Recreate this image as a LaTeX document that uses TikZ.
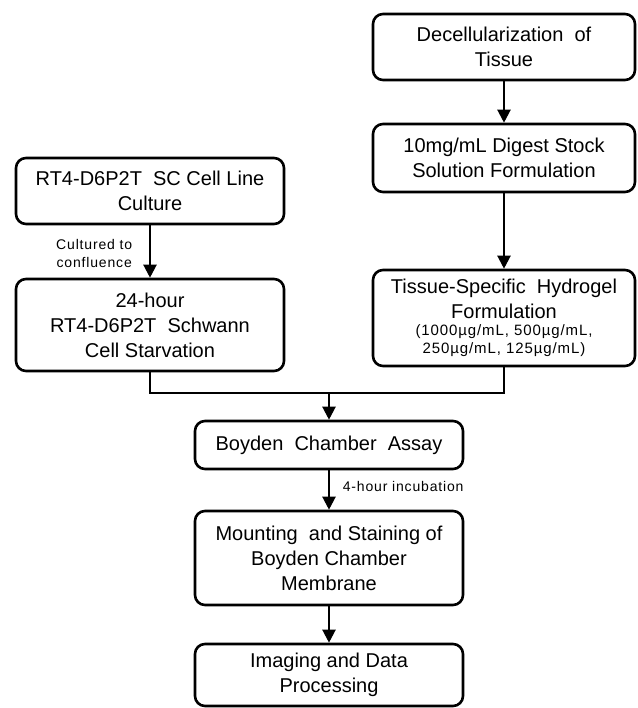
\documentclass[tikz,border=0pt]{standalone}
\usepackage{fontspec}
\setmainfont{Liberation Sans}
\newfontfamily\notefont[LetterSpace=6]{Liberation Sans}
\usepackage{tikz}
\usetikzlibrary{arrows.meta,calc}

\begin{document}
\begin{tikzpicture}[x=0.5pt, y=-0.5pt,
    every node/.style={font=\fontsize{10}{12.5}\selectfont},
    proc/.style={draw, line width=1.3pt, rounded corners=5pt, align=center, inner sep=2pt, minimum width=134pt},
    flow/.style={line width=1.1pt, -{Triangle[length=6.5pt,width=6.5pt]}},
    note/.style={font=\notefont\fontsize{7}{9}\selectfont, align=center}]
  \useasboundingbox (0,0) rectangle (638,708);

  % cell line branch
  \node[proc, minimum height=33pt] (cult) at (150,191)
       {RT4-D6P2T \ SC Cell Line\\Culture};
  \node[proc, minimum height=46pt] (starve) at (150,325)
       {24-hour\\RT4-D6P2T \ Schwann\\Cell Starvation};

  % tissue branch
  \node[proc, minimum width=131pt, minimum height=33pt] (decell) at (504,47)
       {Decellularization \ of\\Tissue};
  \node[proc, minimum width=131pt, minimum height=34pt] (stock) at (504,158)
       {10mg/mL Digest Stock\\Solution Formulation};
  \node[proc, minimum width=131pt, minimum height=48pt] (gel) at (504,318)
       {Tissue-Specific \ Hydrogel\\Formulation\\[-4.3pt]
        {\notefont\fontsize{7.5}{8.5}\selectfont (1000µg/mL, 500µg/mL,}\\[-3.5pt]
        {\notefont\fontsize{7.5}{8.5}\selectfont 250µg/mL, 125µg/mL)}};

  % assay and read-out
  \node[proc, minimum height=24pt] (boyden) at (329,445) {Boyden \ Chamber \ Assay};
  \node[proc, minimum height=47pt] (mount) at (329,558)
       {Mounting \ and Staining of\\Boyden Chamber\\Membrane};
  \node[proc, minimum height=31pt] (imaging) at (329,675) {Imaging and Data\\Processing};

  \coordinate (join) at (329,393);

  \draw[flow] (cult) -- node[note, midway, left, xshift=-5pt, yshift=-1pt] {Cultured to\\confluence} (starve);
  \draw[flow] (decell) -- (stock);
  \draw[flow] (stock) -- (gel);
  \draw[line width=1.1pt] (starve.south) |- (join);
  \draw[line width=1.1pt] (gel.south) |- (join);
  \draw[flow] (join) -- (boyden);
  \draw[flow] (boyden) -- node[note, midway, right, xshift=3pt, yshift=2pt] {4-hour incubation} (mount);
  \draw[flow] (mount) -- (imaging);
\end{tikzpicture}
\end{document}
